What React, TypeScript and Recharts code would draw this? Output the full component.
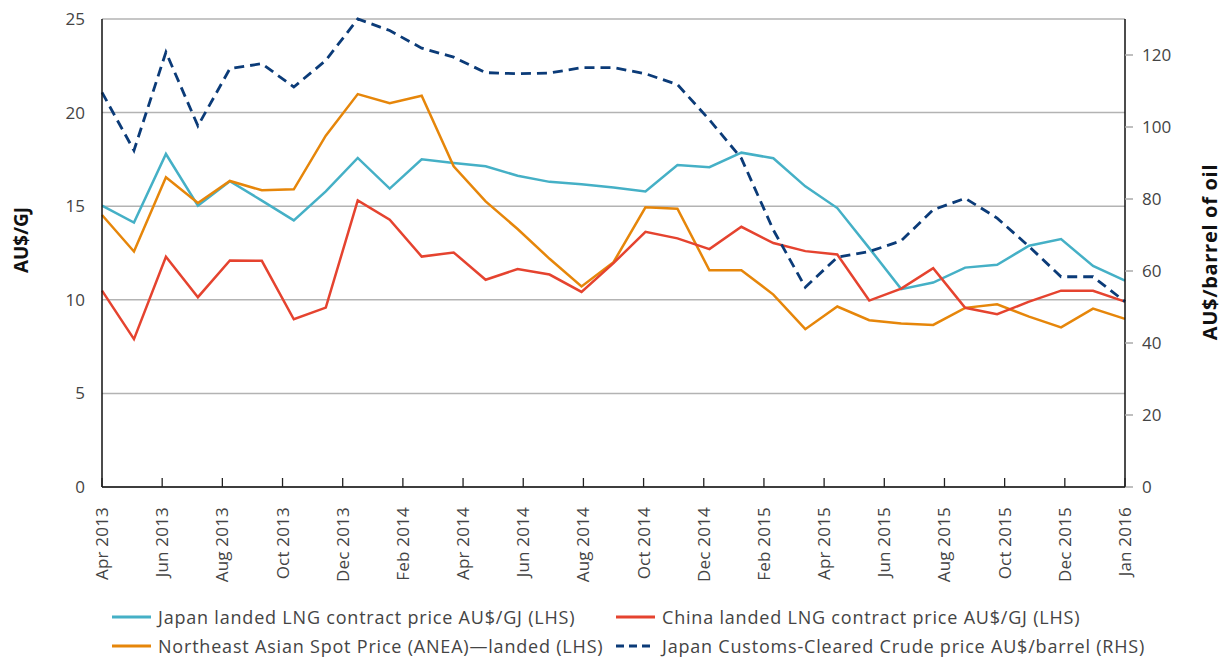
import { LineChart, Line, XAxis, YAxis, CartesianGrid, Label } from 'recharts';

const tickLabels = [
  'Apr 2013', 'Jun 2013', 'Aug 2013', 'Oct 2013', 'Dec 2013', 'Feb 2014',
  'Apr 2014', 'Jun 2014', 'Aug 2014', 'Oct 2014', 'Dec 2014', 'Feb 2015',
  'Apr 2015', 'Jun 2015', 'Aug 2015', 'Oct 2015', 'Dec 2015', 'Jan 2016',
];

const japanLng = [
  15.03, 14.13, 17.79, 15.03, 16.33, 15.3, 14.24, 15.79, 17.58, 15.94, 17.51,
  17.31, 17.13, 16.63, 16.3, 16.17, 16.0, 15.79, 17.2, 17.08, 17.86, 17.56,
  16.06, 14.9, 12.76, 10.57, 10.92, 11.72, 11.87, 12.89, 13.24, 11.81, 11.03,
];

const chinaLng = [
  10.49, 7.9, 12.3, 10.14, 12.1, 12.08, 8.96, 9.58, 15.31, 14.28, 12.31,
  12.53, 11.07, 11.64, 11.35, 10.42, 11.96, 13.63, 13.28, 12.71, 13.9, 13.03,
  12.6, 12.42, 9.96, 10.6, 11.69, 9.57, 9.23, 9.9, 10.49, 10.48, 9.9,
];

const spotAnea = [
  14.53, 12.58, 16.54, 15.17, 16.35, 15.85, 15.9, 18.77, 20.99, 20.5, 20.9,
  17.13, 15.26, 13.78, 12.19, 10.71, 12.01, 14.94, 14.87, 11.58, 11.58, 10.28,
  8.43, 9.64, 8.91, 8.73, 8.66, 9.57, 9.76, 9.1, 8.53, 9.53, 8.98,
];

const crudeOil = [
  109.6, 93.5, 120.8, 100.3, 116.2, 117.6, 111.1, 118.5, 130, 126.8, 121.9,
  119.4, 115.1, 114.8, 115, 116.5, 116.5, 114.8, 111.8, 102, 91.3, 71.4,
  55.5, 63.8, 65.4, 68.4, 77, 80.2, 74.7, 66.8, 58.4, 58.4, 51.5,
];

const leftTicks = [0, 5, 10, 15, 20, 25];
const rightTicks = [0, 20, 40, 60, 80, 100, 120];

const lastIdx = japanLng.length - 1;
// labels are spread evenly across the whole axis
const xTicks = tickLabels.map((_, k) => (k * lastIdx) / (tickLabels.length - 1));

const data = japanLng.map((v, i) => ({
  i,
  japan: v,
  china: chinaLng[i],
  spot: spotAnea[i],
  crude: crudeOil[i],
}));

const FONT = '"Open Sans", sans-serif';
const TEXT = '#444';

const COLORS = {
  japan: '#45b0c6',
  china: '#e5432f',
  spot: '#e6860a',
  crude: '#0b3b78',
};

const legendItems = [
  { label: 'Japan landed LNG contract price AU$/GJ (LHS)', color: COLORS.japan, dashed: false },
  { label: 'China landed LNG contract price AU$/GJ (LHS)', color: COLORS.china, dashed: false },
  { label: 'Northeast Asian Spot Price (ANEA)\u2014landed (LHS)', color: COLORS.spot, dashed: false },
  { label: 'Japan Customs-Cleared Crude price AU$/barrel (RHS)', color: COLORS.crude, dashed: true },
];

const MonthTick = ({ x, y, payload }: any) => {
  const idx = xTicks.findIndex((t) => Math.abs(t - payload.value) < 1e-6);
  const label = idx >= 0 ? tickLabels[idx] : '';
  const tx = x + 6;
  const ty = y + 20;
  return (
    <g>
      <line x1={x} y1={y} x2={x} y2={y - 9} stroke="#222" strokeWidth={1.3} />
      <text
        x={tx}
        y={ty}
        transform={`rotate(-90 ${tx} ${ty})`}
        textAnchor="end"
        fontSize={17}
        letterSpacing={0.2}
        fontFamily={FONT}
        fill={TEXT}
      >
        {label}
      </text>
    </g>
  );
};

export default function App() {
  return (
    <div style={{ position: 'absolute', left: 0, top: 0, width: 1222, height: 657, background: '#fff' }}>
      <LineChart
        width={1222}
        height={657}
        data={data}
        margin={{ top: 19, right: 0, bottom: 0, left: 0 }}
      >
        <CartesianGrid yAxisId="left" vertical={false} stroke="#b3b3b3" strokeWidth={1.5} />
        <XAxis
          dataKey="i"
          type="number"
          domain={[0, lastIdx]}
          ticks={xTicks}
          interval={0}
          height={170}
          tickLine={false}
          tickSize={0}
          tickMargin={0}
          axisLine={{ stroke: '#111', strokeWidth: 1.5 }}
          tick={<MonthTick />}
        />
        <YAxis
          yAxisId="left"
          width={102}
          domain={[0, 25]}
          ticks={leftTicks}
          interval={0}
          tickLine={false}
          tickSize={0}
          tickMargin={17}
          axisLine={{ stroke: '#111', strokeWidth: 1.5 }}
          tick={{ fontSize: 17, fontFamily: FONT, fill: TEXT }}
        >
          <Label
            content={() => (
              <text
                x={28}
                y={240}
                transform="rotate(-90 28 240)"
                textAnchor="middle"
                fontSize={19}
                fontWeight={700}
                fontFamily={FONT}
                fill="#111"
              >
                AU$/GJ
              </text>
            )}
          />
        </YAxis>
        <YAxis
          yAxisId="right"
          orientation="right"
          width={97}
          domain={[0, 130]}
          ticks={rightTicks}
          interval={0}
          tickSize={8}
          tickMargin={9}
          tickLine={{ stroke: '#aaa', strokeWidth: 1.5 }}
          axisLine={{ stroke: '#111', strokeWidth: 1.5 }}
          tick={{ fontSize: 17, fontFamily: FONT, fill: TEXT, textAnchor: 'start' }}
        >
          <Label
            content={() => (
              <text
                x={1217}
                y={252}
                transform="rotate(-90 1217 252)"
                textAnchor="middle"
                fontSize={20}
                letterSpacing={0.7}
                fontWeight={700}
                fontFamily={FONT}
                fill="#111"
              >
                AU$/barrel of oil
              </text>
            )}
          />
        </YAxis>
        <Line
          yAxisId="left"
          dataKey="japan"
          stroke={COLORS.japan}
          strokeWidth={2.5}
          dot={false}
          isAnimationActive={false}
        />
        <Line
          yAxisId="left"
          dataKey="spot"
          stroke={COLORS.spot}
          strokeWidth={2.5}
          dot={false}
          isAnimationActive={false}
        />
        <Line
          yAxisId="left"
          dataKey="china"
          stroke={COLORS.china}
          strokeWidth={2.5}
          dot={false}
          isAnimationActive={false}
        />
        <Line
          yAxisId="right"
          dataKey="crude"
          stroke={COLORS.crude}
          strokeWidth={2.8}
          strokeDasharray="10 6"
          dot={false}
          isAnimationActive={false}
        />
      </LineChart>

      <div
        style={{
          position: 'absolute',
          left: 112,
          top: 603,
          width: 1110,
          display: 'grid',
          gridTemplateColumns: '504px auto',
          rowGap: 1,
          fontFamily: FONT,
          fontSize: 18,
          letterSpacing: 0.8,
          color: TEXT,
        }}
      >
        {legendItems.map((item) => (
          <div key={item.label} style={{ display: 'flex', alignItems: 'center', height: 28, whiteSpace: 'nowrap' }}>
            <svg width={39} height={6} style={{ marginRight: 7, flexShrink: 0 }}>
              <line
                x1={0}
                y1={3}
                x2={39}
                y2={3}
                stroke={item.color}
                strokeWidth={3}
                strokeDasharray={item.dashed ? '8 5' : undefined}
              />
            </svg>
            <span>{item.label}</span>
          </div>
        ))}
      </div>
    </div>
  );
}
